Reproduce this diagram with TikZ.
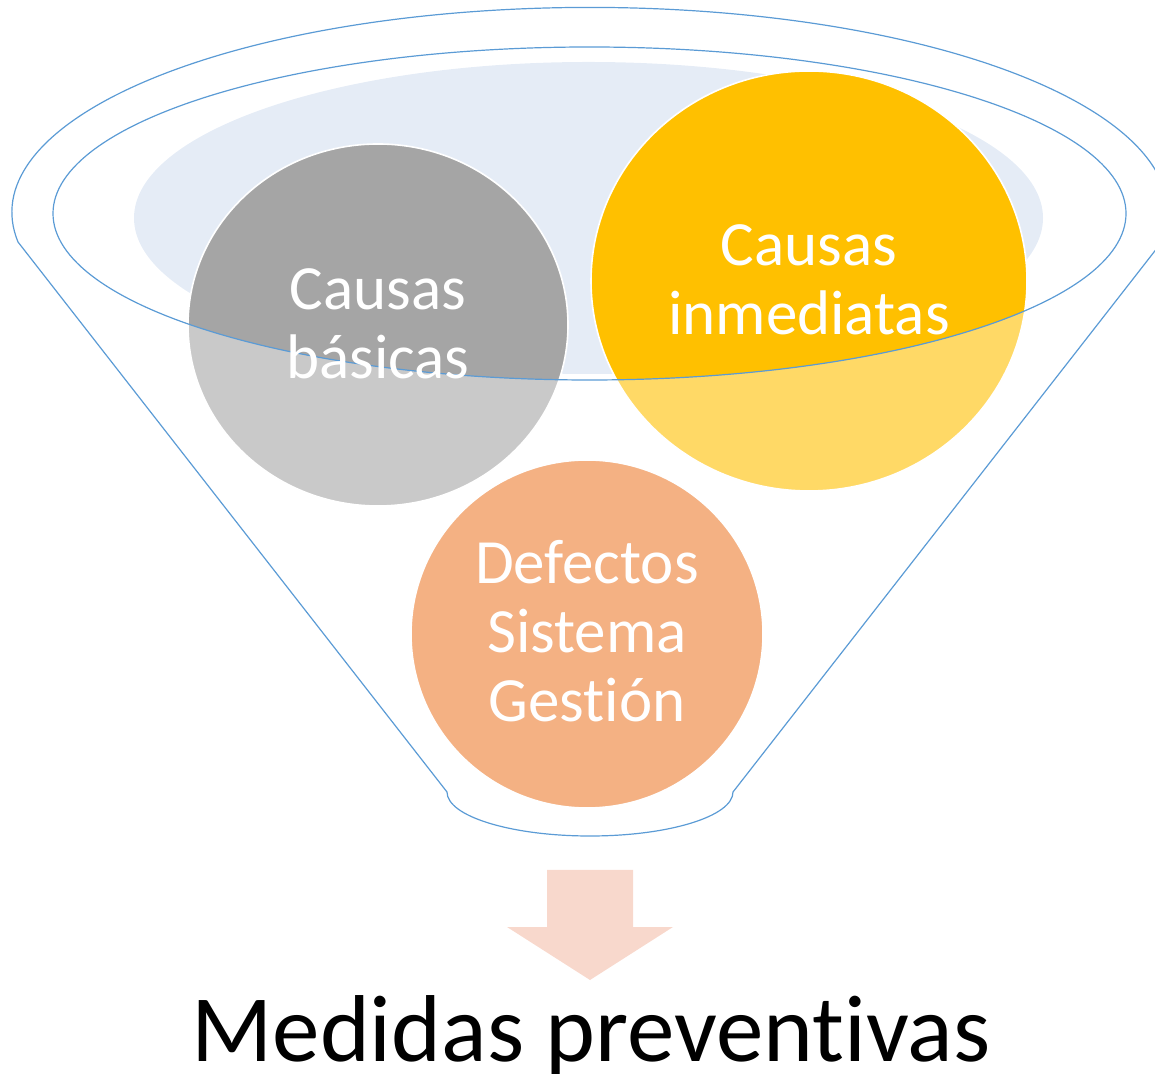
\documentclass[tikz,border=0pt]{standalone}
\usepackage{fontspec}
\setmainfont{Carlito}[RawFeature={-liga}]
\definecolor{funnelblue}{HTML}{5B9BD5}
\definecolor{paleblue}{HTML}{E5ECF6}
\definecolor{graydark}{HTML}{A5A5A5}
\definecolor{graylight}{HTML}{C9C9C9}
\definecolor{yellowdark}{HTML}{FFC000}
\definecolor{yellowlight}{HTML}{FFD966}
\definecolor{orangefill}{HTML}{F4B183}
\definecolor{arrowfill}{HTML}{F8D8CC}
\tikzset{
  funnelline/.style={draw=funnelblue, line width=1.2pt},
  circlabel/.style={text=white, align=center, font=\fontsize{63}{69}\selectfont, inner sep=0pt},
  circedge/.style={draw=white, line width=1.6pt}
}
\begin{document}
\begin{tikzpicture}[x=1pt,y=1pt]
\useasboundingbox (0,0) rectangle (1155,1073);
\clip (0,0) rectangle (1155,1073);
% pale inner ellipse
\fill[paleblue] (588.5,855) ellipse [x radius=454.5, y radius=156];
% circles (light parts)
\fill[graylight] (378,748) ellipse [x radius=190, y radius=181];
\fill[yellowlight] (809,792) ellipse [x radius=218, y radius=210];
\fill[orangefill] (587,439) ellipse [x radius=176, y radius=174];
% dark parts inside the funnel mouth
\begin{scope}
  \clip (589.5,859.5) ellipse [x radius=536.5, y radius=166.5];
  \fill[graydark] (378,748) ellipse [x radius=190, y radius=181];
  \fill[yellowdark] (809,792) ellipse [x radius=218, y radius=210];
\end{scope}
\draw[circedge] (378,748) ellipse [x radius=190, y radius=181];
\draw[circedge] (809,792) ellipse [x radius=218, y radius=210];
\draw[circedge] (587,439) ellipse [x radius=176, y radius=174];
% funnel outline
\coordinate (lt) at (18,831);
\coordinate (lb) at (447,281);
\coordinate (rb) at (733,281);
\coordinate (rt) at (1162,831);
\draw[funnelline] (lb) -- (lt) arc[start angle=188.3, end angle=-8.3, x radius=578, y radius=205] -- (rb)
  arc[start angle=0, end angle=-180, x radius=143, y radius=44] -- cycle;
\draw[funnelline] (589.5,859.5) ellipse [x radius=536.5, y radius=166.5];
% labels
\node[circlabel] (basicas) at (378,749) {Causas\\básicas};
\node[circlabel] (inmediatas) at (809,793) {Causas\\inmediatas};
\node[circlabel] (defectos) at (587,442) {Defectos\\Sistema\\Gestión};
% arrow
\fill[arrowfill] (547,203) -- (633,203) -- (633,146) -- (673,146) -- (590,93) -- (507,146) -- (547,146) -- cycle;
\node[anchor=base, inner sep=0pt, font=\fontsize{95}{110}\selectfont] (medidas) at (591,12) {Medidas preventivas};
\end{tikzpicture}
\end{document}
